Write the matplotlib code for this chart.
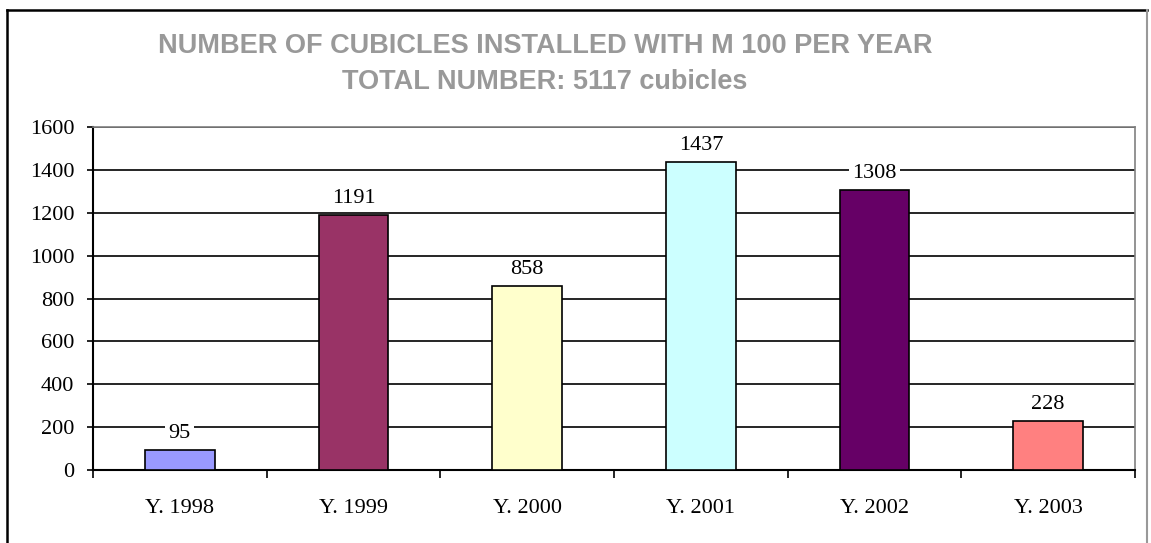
import matplotlib
matplotlib.use("Agg")
import matplotlib.pyplot as plt
from matplotlib.lines import Line2D

categories = ["Y. 1998", "Y. 1999", "Y. 2000", "Y. 2001", "Y. 2002", "Y. 2003"]
values = [95, 1191, 858, 1437, 1308, 228]
colors = ["#9999FF", "#993366", "#FFFFCC", "#CCFFFF", "#660066", "#FF8080"]
yticks = [0, 200, 400, 600, 800, 1000, 1200, 1400, 1600]
title_lines = ["NUMBER OF CUBICLES INSTALLED WITH M 100 PER YEAR",
               "TOTAL NUMBER: 5117 cubicles"]

W, H = 1151, 543
fig = plt.figure(figsize=(W / 100, H / 100), dpi=100)
fig.patch.set_facecolor("white")

# outer chart frame (left/top black, right gray)
fig.add_artist(Line2D([7 / W, 7 / W], [0, 1 - 10 / H], transform=fig.transFigure,
                      color="black", linewidth=1.8))
fig.add_artist(Line2D([7 / W, 1147 / W], [1 - 10 / H, 1 - 10 / H], transform=fig.transFigure,
                      color="black", linewidth=1.8))
fig.add_artist(Line2D([1147 / W, 1147 / W], [0, 1 - 10 / H], transform=fig.transFigure,
                      color="#999999", linewidth=1.5))

left, right, top, bottom = 93, 1135, 127, 470
ax = fig.add_axes([left / W, 1 - bottom / H, (right - left) / W, (bottom - top) / H])

x = list(range(len(categories)))
ax.bar(x, values, width=0.4, color=colors, edgecolor="black", linewidth=1.2, zorder=3)

ax.set_xlim(-0.5, len(categories) - 0.5)
ax.set_ylim(0, 1600)
ax.set_yticks(yticks)
ax.set_yticklabels([str(v) for v in yticks], fontfamily="Liberation Serif", fontsize=16)
ax.yaxis.grid(True, color="black", linewidth=1.2, zorder=0)
ax.set_axisbelow(True)

ax.set_xticks(x)
ax.set_xticklabels(categories, fontfamily="Liberation Serif", fontsize=16)
ax.tick_params(axis="x", length=0, pad=21)
ax.tick_params(axis="y", length=4.5, width=1.2, direction="out", pad=9)
ax.set_xticks([i - 0.5 for i in range(len(categories) + 1)], minor=True)
ax.tick_params(axis="x", which="minor", length=6, width=1.2, direction="out")

for s in ["top", "right"]:
    ax.spines[s].set_color("#808080")
    ax.spines[s].set_linewidth(1.2)
for s in ["left", "bottom"]:
    ax.spines[s].set_color("black")
    ax.spines[s].set_linewidth(1.5)

for xi, v in zip(x, values):
    ax.annotate(str(v), (xi, v), xytext=(0, 5), textcoords="offset points",
                ha="center", va="bottom", fontfamily="Liberation Serif", fontsize=16,
                bbox=dict(boxstyle="square,pad=0.15", facecolor="white", edgecolor="none"),
                zorder=4)

fig.text(545 / W, 1 - 46 / H, title_lines[0], ha="center", va="center",
         fontfamily="Liberation Sans", fontweight="bold", fontsize=19.5, color="#999999")
fig.text(545 / W, 1 - 82 / H, title_lines[1], ha="center", va="center",
         fontfamily="Liberation Sans", fontweight="bold", fontsize=19.5, color="#999999")

fig.savefig("out.png", dpi=100, facecolor="white")
